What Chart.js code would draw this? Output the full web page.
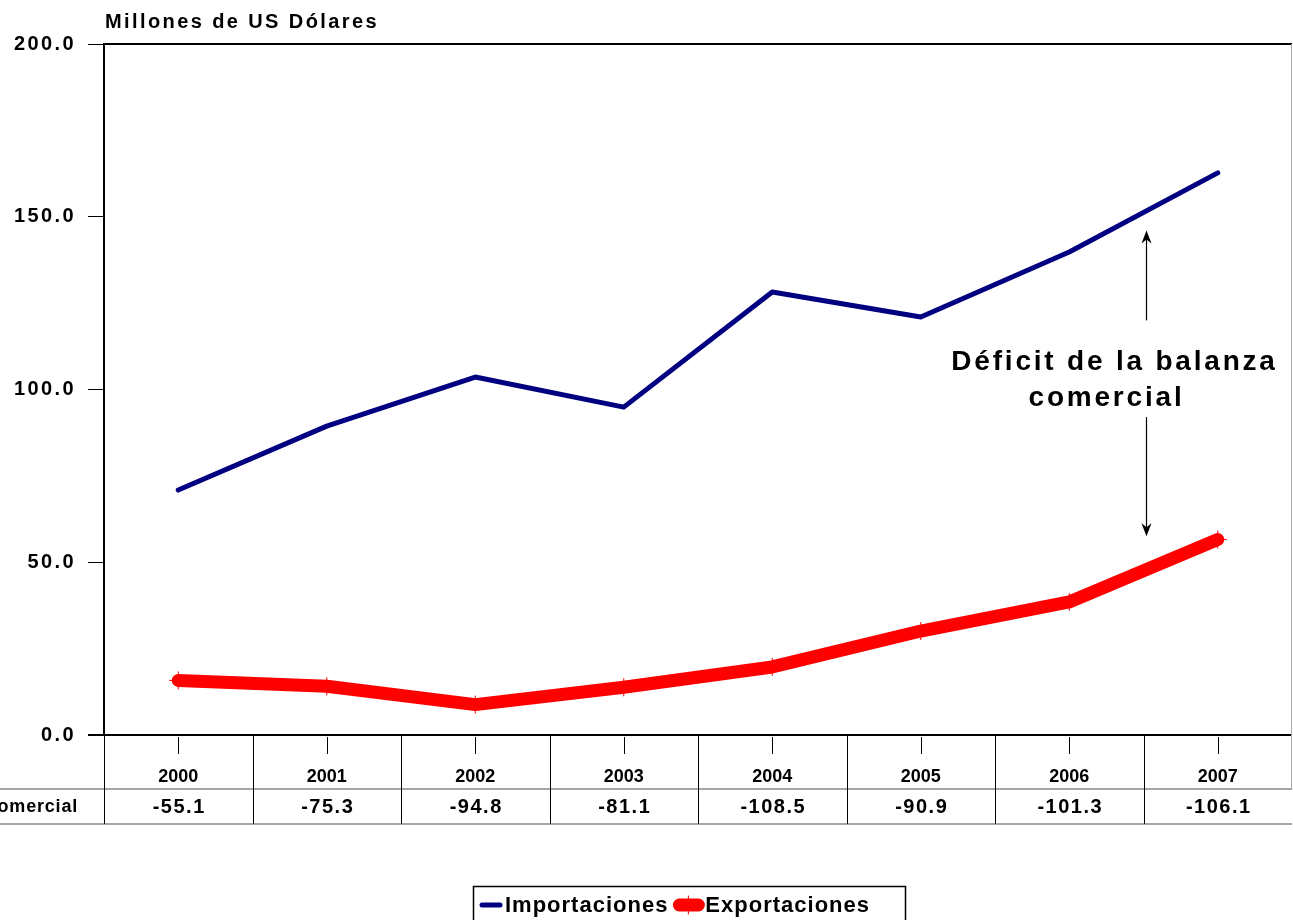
<!DOCTYPE html>
<html lang="es">
<head>
<meta charset="utf-8">
<title>Importaciones y exportaciones</title>
<script src="https://cdn.jsdelivr.net/npm/chart.js@4.4.1/dist/chart.umd.min.js"></script>
<style>
  html, body { margin: 0; padding: 0; background: #fff; }
  canvas { display: block; }
</style>
</head>
<body>
<canvas id="grafico" width="1293" height="920"></canvas>
<script>
// millones de US dólares
const anios = ['2000', '2001', '2002', '2003', '2004', '2005', '2006', '2007'];
const importaciones = [70.9, 89.4, 103.6, 94.9, 128.2, 121.0, 139.8, 162.7];
const exportaciones = [15.8, 14.1, 8.8, 13.8, 19.7, 30.1, 38.5, 56.6];
const balanza = [-55.1, -75.3, -94.8, -81.1, -108.5, -90.9, -101.3, -106.1];
const yTicks = [0, 50, 100, 150, 200];

const FUENTE = '"Liberation Sans", Arial, sans-serif';
const AZUL = '#000080';
const ROJO = '#ff0000';

function linea(ctx, x1, y1, x2, y2) {
  ctx.beginPath();
  ctx.moveTo(x1, y1);
  ctx.lineTo(x2, y2);
  ctx.stroke();
}

function flecha(ctx, x, yDesde, yHasta) {
  const dir = yHasta < yDesde ? 1 : -1;
  ctx.strokeStyle = '#000';
  ctx.fillStyle = '#000';
  ctx.lineWidth = 1.2;
  linea(ctx, x, yDesde, x, yHasta + dir * 6);
  ctx.beginPath();
  ctx.moveTo(x, yHasta);
  ctx.lineTo(x - 5, yHasta + dir * 13);
  ctx.lineTo(x, yHasta + dir * 9);
  ctx.lineTo(x + 5, yHasta + dir * 13);
  ctx.closePath();
  ctx.fill();
}

// espaciado de letras para los textos de los ejes
const espaciado = {
  id: 'espaciado',
  beforeDraw(chart) {
    chart.ctx.letterSpacing = '2.4px';
  }
};

const tabla = {
  id: 'tabla',
  afterDraw(chart) {
    const ctx = chart.ctx;
    const a = chart.chartArea;
    const x = chart.scales.x;
    const paso = x.getPixelForValue(1) - x.getPixelForValue(0);
    const fila1 = a.bottom + 54;
    const fila2 = a.bottom + 89;

    ctx.save();
    ctx.letterSpacing = '0px';

    // marco del área de trazado
    ctx.strokeStyle = '#000';
    ctx.lineWidth = 2;
    linea(ctx, a.left, a.top, a.right, a.top);
    linea(ctx, a.left - 16, a.bottom, a.right, a.bottom);
    ctx.strokeStyle = '#aaa';
    ctx.lineWidth = 1;
    linea(ctx, a.right - 0.5, a.top, a.right - 0.5, fila1);

    // líneas horizontales de la tabla
    ctx.strokeStyle = '#888';
    ctx.lineWidth = 1.5;
    linea(ctx, 0, fila1, a.right, fila1);
    linea(ctx, 0, fila2, a.right, fila2);

    // separadores y marcas de categoría
    ctx.strokeStyle = '#000';
    ctx.lineWidth = 1;
    for (let i = 0; i < anios.length; i++) {
      const cx = x.getPixelForValue(i);
      const borde = Math.round(cx - paso / 2) + 0.5;
      linea(ctx, borde, a.bottom, borde, fila2);
      linea(ctx, Math.round(cx) + 0.5, a.bottom + 2, Math.round(cx) + 0.5, a.bottom + 19);
    }

    ctx.fillStyle = '#000';
    ctx.textAlign = 'center';
    ctx.textBaseline = 'middle';
    anios.forEach((anio, i) => {
      const cx = x.getPixelForValue(i);
      ctx.font = 'bold 18px ' + FUENTE;
      ctx.letterSpacing = '0px';
      ctx.fillText(anio, cx, a.bottom + 42);
      ctx.font = 'bold 20px ' + FUENTE;
      ctx.letterSpacing = '1.5px';
      ctx.fillText(balanza[i].toFixed(1), cx + 1, a.bottom + 72);
    });

    ctx.textAlign = 'right';
    ctx.font = 'bold 18px ' + FUENTE;
    ctx.letterSpacing = '0.8px';
    ctx.fillText('Balanza comercial', a.left - 26, a.bottom + 72);

    // título del eje
    ctx.textAlign = 'left';
    ctx.font = 'bold 20px ' + FUENTE;
    ctx.letterSpacing = '2.4px';
    ctx.fillText('Millones de US Dólares', a.left + 1, 22);

    // anotación del déficit
    const y = chart.scales.y;
    const xf = (x.getPixelForValue(6) + x.getPixelForValue(7)) / 2 + 3;
    flecha(ctx, xf, y.getPixelForValue(120), y.getPixelForValue(146));
    flecha(ctx, xf, y.getPixelForValue(92), y.getPixelForValue(57.5));
    ctx.textAlign = 'center';
    ctx.font = 'bold 28px ' + FUENTE;
    ctx.letterSpacing = '2.8px';
    ctx.fillText('Déficit de la balanza', xf - 32, y.getPixelForValue(108));
    ctx.fillText('comercial', xf - 40, y.getPixelForValue(97.5));

    // leyenda
    const ly = 905;
    ctx.strokeStyle = '#000';
    ctx.lineWidth = 1.5;
    ctx.strokeRect(473.5, 886.5, 432, 60);
    ctx.font = 'bold 22px ' + FUENTE;
    ctx.letterSpacing = '1px';
    ctx.textAlign = 'left';
    ctx.lineCap = 'round';
    let lx = 482;
    ctx.strokeStyle = AZUL;
    ctx.lineWidth = 5;
    linea(ctx, lx, ly, lx + 18, ly);
    lx += 23;
    ctx.fillText('Importaciones', lx, ly + 1);
    lx += ctx.measureText('Importaciones').width + 4;
    ctx.strokeStyle = ROJO;
    ctx.lineWidth = 13;
    linea(ctx, lx + 7, ly, lx + 26, ly);
    ctx.lineWidth = 1;
    linea(ctx, lx + 16, ly - 9, lx + 16, ly + 9);
    lx += 33;
    ctx.fillText('Exportaciones', lx, ly + 1);

    ctx.restore();
  }
};

new Chart(document.getElementById('grafico'), {
  type: 'line',
  data: {
    labels: anios,
    datasets: [
      {
        label: 'Importaciones',
        data: importaciones,
        borderColor: AZUL,
        borderWidth: 5,
        borderCapStyle: 'round',
        borderJoinStyle: 'round',
        pointRadius: 0,
        tension: 0
      },
      {
        label: 'Exportaciones',
        data: exportaciones,
        borderColor: ROJO,
        backgroundColor: ROJO,
        borderWidth: 13,
        borderCapStyle: 'round',
        borderJoinStyle: 'round',
        pointStyle: 'cross',
        pointRadius: 9,
        pointBorderWidth: 1,
        pointBorderColor: ROJO,
        tension: 0
      }
    ]
  },
  options: {
    responsive: false,
    animation: false,
    layout: {
      autoPadding: false,
      padding: { top: 44, right: 1, bottom: 185, left: 0 }
    },
    plugins: {
      legend: { display: false },
      tooltip: { enabled: false },
      title: { display: false }
    },
    scales: {
      x: {
        type: 'category',
        offset: true,
        display: false
      },
      y: {
        min: 0,
        max: 200,
        afterFit: (s) => { s.width = 104; },
        afterBuildTicks: (s) => { s.ticks = yTicks.map(v => ({ value: v })); },
        border: { display: true, color: '#000', width: 2 },
        grid: {
          drawOnChartArea: false,
          drawTicks: true,
          tickLength: 16,
          color: '#000',
          lineWidth: 1
        },
        ticks: {
          padding: 12,
          color: '#000',
          font: { family: FUENTE, size: 20, weight: 'bold' },
          callback: (v) => Number(v).toFixed(1)
        }
      }
    }
  },
  plugins: [espaciado, tabla]
});
</script>
</body>
</html>
